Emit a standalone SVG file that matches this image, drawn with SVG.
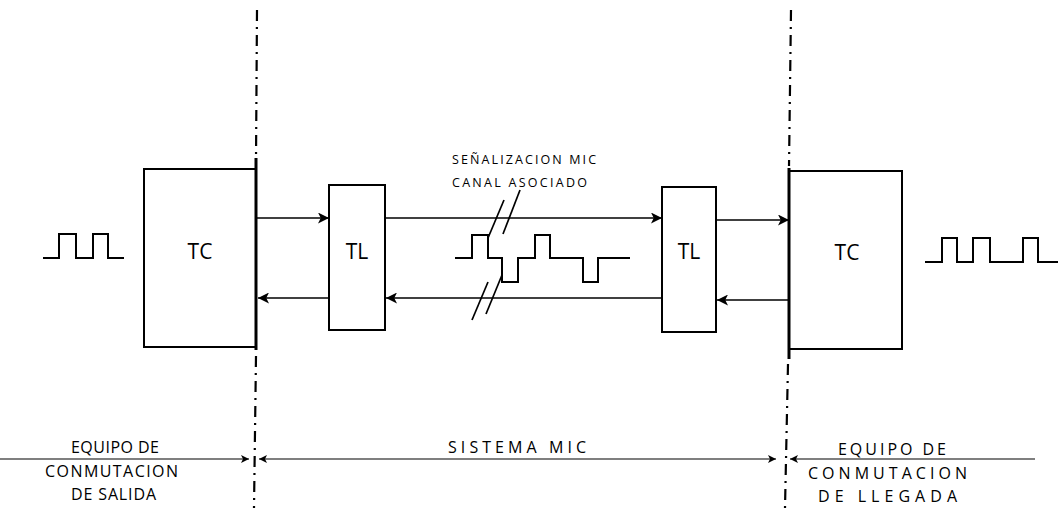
<svg xmlns="http://www.w3.org/2000/svg" width="1060" height="516" viewBox="0 0 1060 516">
<defs>
<marker id="ah" viewBox="0 0 10 10" refX="10" refY="5" markerWidth="12" markerHeight="11" markerUnits="userSpaceOnUse" orient="auto">
<path d="M0,0 L10,5 L0,10 L2.5,5 Z" fill="#000"/>
</marker>
<marker id="ahs" viewBox="0 0 10 10" refX="10" refY="5" markerWidth="9" markerHeight="8" markerUnits="userSpaceOnUse" orient="auto">
<path d="M0,0 L10,5 L0,10 L2.5,5 Z" fill="#000"/>
</marker>
<style>
.box{fill:none;stroke:#000;stroke-width:2}
.ln{fill:none;stroke:#000;stroke-width:1.7}
.thin{fill:none;stroke:#000;stroke-width:1.2}
.sig{fill:none;stroke:#000;stroke-width:2;stroke-linejoin:miter}
.dd{fill:none;stroke:#000;stroke-width:2.2;stroke-dasharray:11 6 2 6}
.edge{fill:none;stroke:#000;stroke-width:3}
.t{font-family:"Open Sans","Liberation Sans",Arial,sans-serif;fill:#000}
.big{font-size:21px}
.lab{font-size:16px}
.sm{font-size:12.5px}
</style>
</defs>
<rect width="1060" height="516" fill="#fff"/>

<g id="boundaries">
<line class="dd" x1="257" y1="10" x2="256" y2="160"/>
<line class="dd" x1="256" y1="356" x2="254" y2="508"/>
<line class="dd" x1="791" y1="10" x2="789" y2="166"/>
<line class="dd" x1="788" y1="364" x2="785" y2="508"/>
</g>

<g id="tc_left">
<rect class="box" x="144" y="169" width="112" height="178"/>
<line class="edge" x1="256" y1="158" x2="256" y2="350"/>
<text class="t big" x="200" y="259" text-anchor="middle">TC</text>
</g>

<g id="tl_left">
<rect class="box" x="329" y="185" width="56" height="145"/>
<text class="t big" x="357" y="259" text-anchor="middle">TL</text>
</g>

<g id="tl_right">
<rect class="box" x="662" y="187" width="54" height="145"/>
<text class="t big" x="689" y="259" text-anchor="middle">TL</text>
</g>

<g id="tc_right">
<rect class="box" x="789" y="171" width="113" height="178"/>
<line class="edge" x1="789" y1="168" x2="789" y2="359"/>
<text class="t big" x="847" y="260" text-anchor="middle">TC</text>
</g>

<g id="connectors">
<line class="ln" x1="257" y1="218" x2="329" y2="218" marker-end="url(#ah)"/>
<line class="ln" x1="329" y1="298" x2="258" y2="298" marker-end="url(#ah)"/>
<line class="ln" x1="385" y1="218" x2="662" y2="218" marker-end="url(#ah)"/>
<line class="ln" x1="662" y1="298" x2="386" y2="298" marker-end="url(#ah)"/>
<line class="ln" x1="716" y1="220" x2="789" y2="220" marker-end="url(#ah)"/>
<line class="ln" x1="789" y1="300" x2="717" y2="300" marker-end="url(#ah)"/>
<line class="thin" x1="0" y1="459" x2="249" y2="459" marker-end="url(#ahs)"/>
<line class="thin" x1="517" y1="459" x2="259" y2="459" marker-end="url(#ahs)"/>
<line class="thin" x1="517" y1="459" x2="776" y2="459" marker-end="url(#ahs)"/>
<line class="thin" x1="1035" y1="459" x2="790" y2="459" marker-end="url(#ahs)"/>
</g>

<g id="signal_left">
<path class="sig" d="M43,258 H59 V234 H76 V258 H93 V234 H108 V258 H124"/>
</g>

<g id="signal_mic">
<path class="sig" d="M455,258 H472 V235 H488 V258 H502 V282 H518 V258 H535 V235 H550 V258 H583 V282 H598 V258 H630"/>
<g class="ln">
<line x1="488" y1="238" x2="504" y2="200"/>
<line x1="503" y1="234" x2="520" y2="190"/>
<line x1="472" y1="320" x2="488" y2="282"/>
<line x1="486" y1="314" x2="502" y2="275"/>
</g>
</g>

<g id="signal_right">
<path class="sig" d="M925,262 H942 V238 H957 V262 H973 V238 H990 V262 H1023 V238 H1038 V262 H1058"/>
</g>

<g id="labels">
<text class="t sm" x="452" y="164" textLength="144" lengthAdjust="spacing">SEÑALIZACION MIC</text>
<text class="t sm" x="452" y="187" textLength="135" lengthAdjust="spacing">CANAL ASOCIADO</text>
<text class="t lab" x="448" y="453" textLength="138" lengthAdjust="spacing">SISTEMA MIC</text>
<text class="t lab" x="71" y="453" textLength="88" lengthAdjust="spacing">EQUIPO DE</text>
<text class="t lab" x="45" y="477" textLength="133" lengthAdjust="spacing">CONMUTACION</text>
<text class="t lab" x="71" y="500" textLength="85" lengthAdjust="spacing">DE SALIDA</text>
<text class="t lab" x="838" y="455" textLength="108" lengthAdjust="spacing">EQUIPO DE</text>
<text class="t lab" x="808" y="479" textLength="159" lengthAdjust="spacing">CONMUTACION</text>
<text class="t lab" x="818" y="502" textLength="139" lengthAdjust="spacing">DE LLEGADA</text>
</g>
</svg>
